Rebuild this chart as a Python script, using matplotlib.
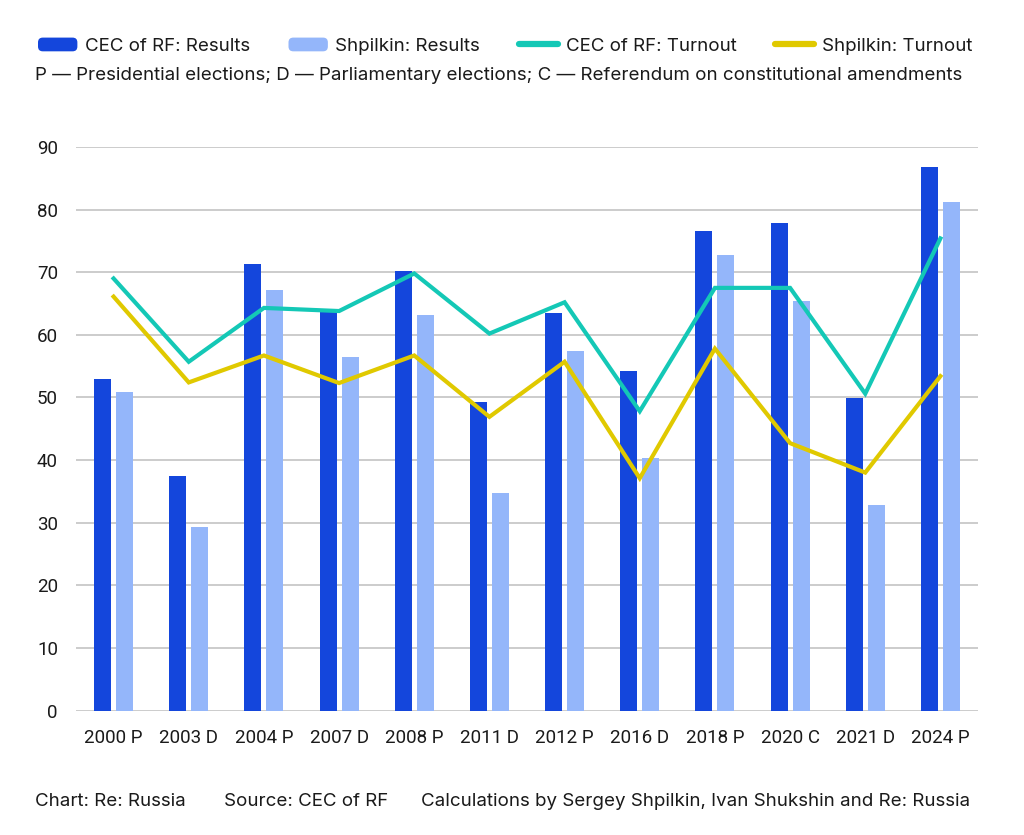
import matplotlib
matplotlib.use("Agg")
import matplotlib.pyplot as plt
import numpy as np
from matplotlib.patches import Patch, FancyBboxPatch
from matplotlib.lines import Line2D
from matplotlib.legend_handler import HandlerPatch

categories = ["2000 P", "2003 D", "2004 P", "2007 D", "2008 P", "2011 D",
              "2012 P", "2016 D", "2018 P", "2020 C", "2021 D", "2024 P"]
cec_results = [52.9, 37.5, 71.3, 64.0, 70.2, 49.2, 63.5, 54.2, 76.6, 77.9, 49.9, 86.8]
shpilkin_results = [50.8, 29.3, 67.2, 56.5, 63.1, 34.8, 57.4, 40.4, 72.8, 65.4, 32.9, 81.2]
cec_turnout = [69.0, 55.7, 64.3, 63.8, 69.8, 60.2, 65.2, 47.8, 67.5, 67.5, 50.6, 75.4]
shpilkin_turnout = [66.1, 52.4, 56.7, 52.3, 56.7, 46.9, 55.7, 37.1, 57.8, 42.7, 38.0, 53.4]
yticks = [0, 10, 20, 30, 40, 50, 60, 70, 80, 90]

C_DARK = "#1446DC"
C_LIGHT = "#94B6FA"
C_TEAL = "#14C8B6"
C_YEL = "#E0C900"
TXT = "#1a1a1a"
TEXT_FONT = ['Inter', 'DejaVu Sans']

plt.rcParams['font.family'] = ['Roboto', 'DejaVu Sans']


class HandlerRound(HandlerPatch):
    def create_artists(self, legend, orig_handle, xdescent, ydescent, width, height, fontsize, trans):
        p = FancyBboxPatch((-xdescent, -ydescent), width, height,
                           boxstyle="round,pad=0,rounding_size=%f" % (height * 0.35),
                           facecolor=orig_handle.get_facecolor(), edgecolor='none',
                           transform=trans)
        return [p]


fig = plt.figure(figsize=(10.24, 8.35), dpi=100)
ax = fig.add_axes([76/1024, 1-710.5/835, (978-76)/1024, (710.5-147)/835])

x = np.arange(len(categories))
w = 0.226
off = 0.146
ax.bar(x - off, cec_results, width=w, color=C_DARK, zorder=2)
ax.bar(x + off, shpilkin_results, width=w, color=C_LIGHT, zorder=2)
ax.plot(x, cec_turnout, color=C_TEAL, lw=3, zorder=3, solid_joinstyle='miter')
ax.plot(x, shpilkin_turnout, color=C_YEL, lw=3, zorder=3, solid_joinstyle='miter')

ax.set_xlim(-0.5, len(categories) - 0.5)
ax.set_ylim(0, 90)
ax.set_yticks(yticks)
ax.set_xticks(x)
ax.set_xticklabels(categories)
ax.grid(axis='y', color="#CCCCCC", lw=1.4, zorder=0)
ax.set_axisbelow(True)
for s in ax.spines.values():
    s.set_visible(False)
ax.tick_params(axis='both', length=0, labelsize=13.5, colors=TXT)
ax.tick_params(axis='y', pad=13)
ax.tick_params(axis='x', pad=13)

handles = [
    Patch(facecolor=C_DARK, edgecolor='none'),
    Patch(facecolor=C_LIGHT, edgecolor='none'),
    Line2D([0], [0], color=C_TEAL, lw=4.5, solid_capstyle='round'),
    Line2D([0], [0], color=C_YEL, lw=4.5, solid_capstyle='round'),
]
labels = ["CEC of RF: Results", "Shpilkin: Results", "CEC of RF: Turnout", "Shpilkin: Turnout"]
leg = fig.legend(handles, labels, ncol=4, loc='lower left',
                 bbox_to_anchor=(38/1024, 1-55/835, (972-38)/1024, 0.02),
                 mode='expand', frameon=False,
                 prop={'family': TEXT_FONT, 'size': 13.5},
                 handlelength=2.1, handleheight=0.75, handletextpad=0.4,
                 borderaxespad=0, borderpad=0,
                 handler_map={Patch: HandlerRound()})
for t in leg.get_texts():
    t.set_color(TXT)

fig.text(35/1024, 1-76/835, "P — Presidential elections; D — Parliamentary elections; C — Referendum on constitutional amendments",
         fontsize=13.5, family=TEXT_FONT, color=TXT, va='center', ha='left')

fy = 1-802/835
fig.text(35/1024, fy, "Chart: Re: Russia", fontsize=13.5, family=TEXT_FONT, color=TXT, va='center', ha='left')
fig.text(224/1024, fy, "Source: CEC of RF", fontsize=13.5, family=TEXT_FONT, color=TXT, va='center', ha='left')
fig.text(970/1024, fy, "Calculations by Sergey Shpilkin, Ivan Shukshin and Re: Russia",
         fontsize=13.5, family=TEXT_FONT, color=TXT, va='center', ha='right')

fig.savefig("out.png", dpi=100, facecolor='white')
